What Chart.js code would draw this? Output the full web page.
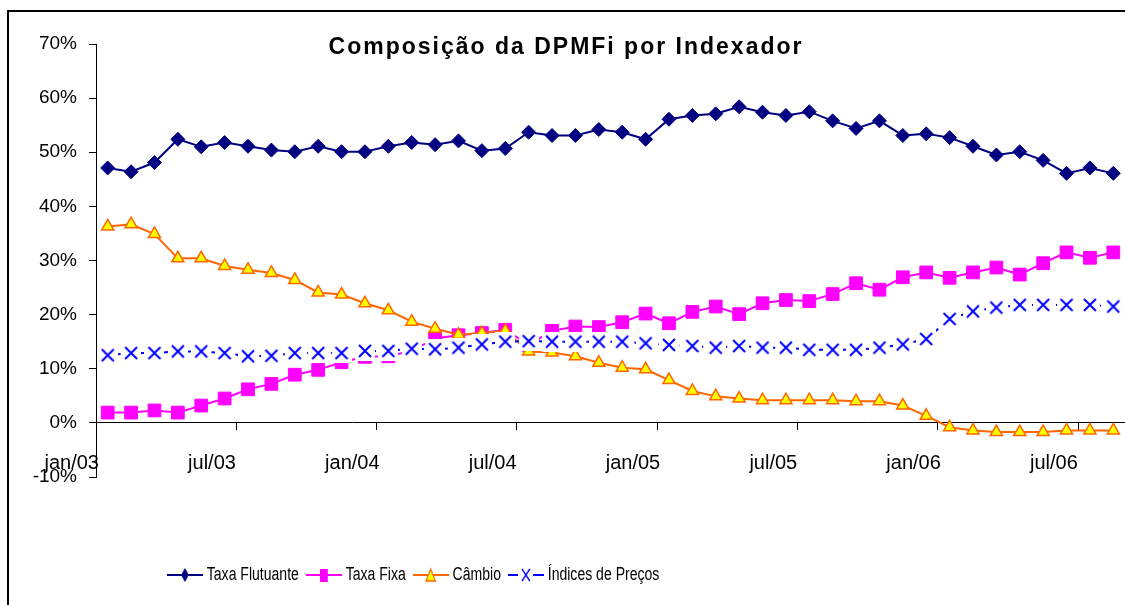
<!DOCTYPE html>
<html>
<head>
<meta charset="utf-8">
<script src="https://cdn.jsdelivr.net/npm/chart.js@4.4.0/dist/chart.umd.min.js"></script>
<style>
  body { margin: 0; background: #fff; }
  canvas { display: block; }
</style>
</head>
<body>
<canvas id="chart" width="1125" height="605"></canvas>
<script>
const chartTitle = 'Composição da DPMFi por Indexador';

const months = [
  'jan/03', 'fev/03', 'mar/03', 'abr/03', 'mai/03', 'jun/03', 'jul/03', 'ago/03', 'set/03', 'out/03', 'nov/03', 'dez/03',
  'jan/04', 'fev/04', 'mar/04', 'abr/04', 'mai/04', 'jun/04', 'jul/04', 'ago/04', 'set/04', 'out/04', 'nov/04', 'dez/04',
  'jan/05', 'fev/05', 'mar/05', 'abr/05', 'mai/05', 'jun/05', 'jul/05', 'ago/05', 'set/05', 'out/05', 'nov/05', 'dez/05',
  'jan/06', 'fev/06', 'mar/06', 'abr/06', 'mai/06', 'jun/06', 'jul/06', 'ago/06'
];

// % of the debt
const taxaFlutuante = [47.1, 46.4, 48.1, 52.4, 51.0, 51.8, 51.1, 50.4, 50.1, 51.1, 50.1, 50.1, 51.1, 51.8, 51.4, 52.1, 50.3, 50.7, 53.7, 53.1, 53.1, 54.2, 53.7, 52.4, 56.1, 56.8, 57.1, 58.4, 57.4, 56.8, 57.5, 55.8, 54.4, 55.8, 53.1, 53.4, 52.7, 51.1, 49.5, 50.1, 48.5, 46.1, 47.1, 46.1];
const taxaFixa = [1.9, 1.9, 2.3, 1.9, 3.2, 4.5, 6.2, 7.2, 8.9, 9.8, 11.2, 12.2, 12.3, 13.3, 15.6, 16.2, 16.6, 17.2, 14.4, 17.0, 17.8, 17.7, 18.6, 20.2, 18.4, 20.5, 21.5, 20.1, 22.1, 22.7, 22.5, 23.8, 25.8, 24.6, 26.9, 27.8, 26.8, 27.8, 28.7, 27.4, 29.5, 31.5, 30.5, 31.5];
const cambio = [36.3, 36.7, 34.9, 30.4, 30.4, 29.0, 28.3, 27.7, 26.4, 24.1, 23.7, 22.1, 20.8, 18.7, 17.4, 16.3, 16.6, 17.0, 13.2, 13.0, 12.3, 11.1, 10.2, 9.9, 7.9, 5.9, 4.9, 4.5, 4.2, 4.2, 4.2, 4.2, 4.0, 4.0, 3.2, 1.3, -0.8, -1.4, -1.7, -1.7, -1.7, -1.4, -1.4, -1.4];
const indicesPrecos = [12.5, 12.9, 12.9, 13.2, 13.2, 12.9, 12.3, 12.4, 12.9, 12.9, 12.9, 13.3, 13.3, 13.7, 13.6, 13.9, 14.5, 15.0, 15.1, 15.0, 15.0, 15.0, 15.0, 14.7, 14.4, 14.2, 13.9, 14.2, 13.9, 13.9, 13.5, 13.5, 13.5, 13.9, 14.5, 15.5, 19.2, 20.6, 21.3, 21.8, 21.8, 21.8, 21.8, 21.5];

const navy = '#000080';
const pink = '#FF00FF';
const orange = '#FF6600';
const yellow = '#FFFF00';
const blue = '#0000FF';

Chart.defaults.font.family = '"Liberation Sans", Arial, sans-serif';
Chart.defaults.color = '#000';

// excel style X marker: blue cross on a white square
function makeCross() {
  const c = document.createElement('canvas');
  c.width = 20;
  c.height = 20;
  const g = c.getContext('2d');
  g.fillStyle = '#fff';
  g.fillRect(0, 0, 20, 20);
  g.strokeStyle = blue;
  g.lineWidth = 2;
  g.beginPath();
  g.moveTo(4, 4); g.lineTo(16, 16);
  g.moveTo(16, 4); g.lineTo(4, 16);
  g.stroke();
  return c;
}

// legend sample: line with the marker in the middle (drawn wide, the legend is squeezed later)
function legendIcon(color, drawMarker) {
  const c = document.createElement('canvas');
  c.width = 46;
  c.height = 18;
  const g = c.getContext('2d');
  g.strokeStyle = color;
  g.lineWidth = 2;
  g.beginPath();
  g.moveTo(0, 9); g.lineTo(46, 9);
  g.stroke();
  drawMarker(g);
  return c;
}

const legendIcons = [
  legendIcon(navy, g => {
    g.fillStyle = navy;
    g.beginPath();
    g.moveTo(23, 2); g.lineTo(28, 9); g.lineTo(23, 16); g.lineTo(18, 9);
    g.closePath();
    g.fill();
  }),
  legendIcon(pink, g => {
    g.fillStyle = pink;
    g.fillRect(18, 3, 10, 13);
  }),
  legendIcon(orange, g => {
    g.fillStyle = yellow;
    g.strokeStyle = orange;
    g.lineWidth = 1.5;
    g.beginPath();
    g.moveTo(23, 3); g.lineTo(29, 15); g.lineTo(17, 15);
    g.closePath();
    g.fill();
    g.stroke();
  }),
  (() => {
    const c = document.createElement('canvas');
    c.width = 46;
    c.height = 18;
    const g = c.getContext('2d');
    g.strokeStyle = blue;
    g.lineWidth = 2;
    g.beginPath();
    g.moveTo(0, 9); g.lineTo(13, 9);
    g.moveTo(32, 9); g.lineTo(46, 9);
    g.stroke();
    g.lineWidth = 1.8;
    g.beginPath();
    g.moveTo(18, 3); g.lineTo(28, 15);
    g.moveTo(28, 3); g.lineTo(18, 15);
    g.stroke();
    return c;
  })()
];

const framePlugin = {
  id: 'frame',
  beforeDraw(chart) {
    const ctx = chart.ctx;
    ctx.save();
    ctx.strokeStyle = '#000';
    ctx.lineWidth = 2;
    ctx.strokeRect(8, 11, 1300, 800);
    ctx.restore();
  },
  afterDraw(chart) {
    const ctx = chart.ctx;
    ctx.save();
    ctx.font = 'bold 23px "Liberation Sans", Arial, sans-serif';
    ctx.letterSpacing = '2px';
    ctx.fillStyle = '#000';
    ctx.textAlign = 'center';
    ctx.textBaseline = 'middle';
    ctx.fillText(chartTitle, 566, 48);
    ctx.restore();
  }
};

// the legend sits left of centre, well below the plot, in a narrow face
const legendPlace = {
  id: 'legendPlace',
  afterLayout(chart) {
    const lg = chart.legend;
    lg.left = 158;
    lg.top = 553;
    lg.bottom = lg.top + lg.height;
    if (!lg._narrow) {
      const draw = lg.draw.bind(lg);
      lg.draw = function (area) {
        const ctx = chart.ctx;
        ctx.save();
        ctx.translate(167, 0);
        ctx.scale(0.78, 1);
        ctx.translate(-167, 0);
        draw(area);
        ctx.restore();
      };
      lg._narrow = true;
    }
  }
};

new Chart(document.getElementById('chart'), {
  type: 'line',
  data: {
    labels: months,
    datasets: [
      {
        label: 'Taxa Flutuante',
        data: taxaFlutuante,
        borderColor: navy,
        backgroundColor: navy,
        borderWidth: 2,
        pointStyle: 'rectRot',
        pointRadius: 7,
        pointBorderWidth: 1,
        order: 3
      },
      {
        label: 'Taxa Fixa',
        data: taxaFixa,
        borderColor: pink,
        backgroundColor: pink,
        borderWidth: 2,
        pointStyle: 'rect',
        pointRadius: 9,
        pointBorderWidth: 1,
        order: 2
      },
      {
        label: 'Câmbio',
        data: cambio,
        borderColor: orange,
        backgroundColor: yellow,
        borderWidth: 2,
        pointStyle: 'triangle',
        pointRadius: 7,
        pointBackgroundColor: yellow,
        pointBorderColor: orange,
        pointBorderWidth: 1.5,
        order: 1
      },
      {
        label: 'Índices de Preços',
        data: indicesPrecos,
        borderColor: blue,
        backgroundColor: blue,
        borderWidth: 2,
        borderDash: [5, 3],
        pointStyle: makeCross(),
        order: 0
      }
    ]
  },
  options: {
    responsive: false,
    animation: false,
    events: [],
    layout: { autoPadding: false, padding: { left: 0, right: 0, top: 44, bottom: 87 } },
    elements: { line: { tension: 0 } },
    scales: {
      x: {
        type: 'category',
        position: { y: 0 },
        offset: true,
        afterFit(scale) {
          scale.paddingLeft = 0;
          scale.paddingRight = 0;
        },
        grid: {
          offset: true,
          drawOnChartArea: false,
          tickLength: 7,
          tickColor: c => (c.index % 6 === 0 ? '#000' : 'rgba(0,0,0,0)')
        },
        border: { color: '#000', width: 1 },
        ticks: {
          autoSkip: false,
          maxRotation: 0,
          minRotation: 0,
          labelOffset: -36,
          padding: 22,
          font: { size: 20 },
          callback(v, i) {
            return i % 6 === 0 ? this.getLabelForValue(v) : '';
          }
        }
      },
      y: {
        min: -10,
        max: 70,
        afterFit(scale) { scale.width = 96; },
        grid: { drawOnChartArea: false, tickLength: 7, tickColor: '#000' },
        border: { color: '#000', width: 1 },
        ticks: {
          stepSize: 10,
          padding: 12,
          font: { size: 19 },
          callback: v => v + '%'
        }
      }
    },
    plugins: {
      tooltip: { enabled: false },
      legend: {
        position: 'bottom',
        align: 'start',
        labels: {
          usePointStyle: true,
          pointStyleWidth: 38,
          padding: 13,
          font: { size: 18 },
          generateLabels(chart) {
            const items = Chart.defaults.plugins.legend.labels.generateLabels(chart);
            items.sort((a, b) => a.datasetIndex - b.datasetIndex);
            items.forEach(it => { it.pointStyle = legendIcons[it.datasetIndex]; });
            return items;
          }
        }
      }
    }
  },
  plugins: [framePlugin, legendPlace]
});
</script>
</body>
</html>
